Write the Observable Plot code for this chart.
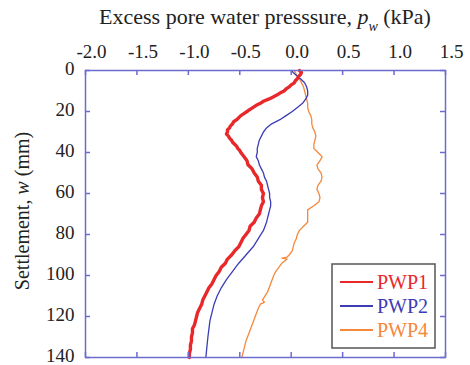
<!DOCTYPE html>
<html><head><meta charset="utf-8">
<script src="https://cdn.jsdelivr.net/npm/d3@7"></script>
<script src="https://cdn.jsdelivr.net/npm/@observablehq/plot@0.6"></script>
<style>body{margin:0;background:#fff}#chart{width:470px;height:365px}
#chart svg, #chart svg text{font-family:"Liberation Serif","Times New Roman",serif !important}</style>
</head><body><div id="chart"></div>
<script>
const seriesNames = ["PWP1", "PWP2", "PWP4"];
const seriesColors = ["#e8282a", "#3c3cb4", "#f5883c"];

const pwp1Depth = [0,1,2,3,4,5,6,7,8,9,10,11,12,13,14,15,16,17,18,19,20,21,22,23,24,25,26,27,28,29,30,31,32,33,34,35,36,37,38,39,40,42,44,46,48,50,52,54,56,58,60,62,64,66,68,70,72,74,76,78,80,82,84,86,88,90,92,94,96,98,100,102,104,106,108,110,112,114,116,118,120,122,124,126,128,130,132,134,136,138,140];
const pwp1Value = [0.08,0.10,0.09,0.07,0.06,0.04,0.03,0.00,-0.02,-0.05,-0.07,-0.11,-0.14,-0.18,-0.22,-0.27,-0.30,-0.34,-0.37,-0.40,-0.43,-0.46,-0.49,-0.51,-0.53,-0.56,-0.57,-0.59,-0.60,-0.62,-0.62,-0.63,-0.61,-0.60,-0.58,-0.57,-0.55,-0.53,-0.52,-0.50,-0.49,-0.46,-0.43,-0.42,-0.38,-0.36,-0.33,-0.32,-0.29,-0.29,-0.27,-0.28,-0.27,-0.29,-0.30,-0.31,-0.34,-0.36,-0.40,-0.41,-0.44,-0.47,-0.49,-0.51,-0.55,-0.58,-0.62,-0.64,-0.68,-0.70,-0.73,-0.75,-0.77,-0.80,-0.82,-0.84,-0.86,-0.87,-0.89,-0.91,-0.92,-0.93,-0.94,-0.96,-0.96,-0.97,-0.97,-0.98,-0.98,-0.99,-0.99];

const pwp2Depth = [0,2,4,6,8,10,12,14,16,18,20,22,24,26,28,30,32,34,36,38,40,42,44,46,48,50,52,54,56,58,60,62,64,66,68,70,74,78,82,86,90,94,98,102,106,110,114,118,122,126,130,135,140];
const pwp2Value = [0.00,0.04,0.09,0.13,0.15,0.16,0.16,0.14,0.11,0.06,0.01,-0.05,-0.11,-0.19,-0.24,-0.27,-0.29,-0.31,-0.32,-0.33,-0.33,-0.34,-0.32,-0.31,-0.29,-0.27,-0.26,-0.24,-0.23,-0.22,-0.21,-0.21,-0.20,-0.20,-0.21,-0.22,-0.24,-0.27,-0.32,-0.37,-0.44,-0.51,-0.57,-0.63,-0.68,-0.72,-0.75,-0.77,-0.79,-0.80,-0.81,-0.82,-0.83];

const pwp4Depth = [0,2,4,6,8,10,12,14,16,18,20,22,24,26,28,30,32,34,36,38,40,42,44,46,48,50,52,54,56,58,60,62,64,66,68,70,72,74,76,78,80,82,84,86,88,90,91,91.5,92,94,96,98,100,104,108,112,113,114,116,120,124,128,132,136,140];
const pwp4Value = [0.03,0.05,0.08,0.10,0.12,0.13,0.14,0.15,0.16,0.16,0.17,0.19,0.20,0.20,0.21,0.23,0.24,0.23,0.22,0.22,0.26,0.30,0.28,0.25,0.26,0.29,0.30,0.29,0.26,0.25,0.27,0.28,0.27,0.22,0.16,0.16,0.16,0.16,0.12,0.08,0.06,0.05,0.03,0.02,0.01,-0.02,-0.04,-0.09,-0.04,-0.09,-0.12,-0.15,-0.17,-0.20,-0.23,-0.28,-0.26,-0.30,-0.32,-0.35,-0.38,-0.41,-0.44,-0.46,-0.48];

const xTicks = [-2.0, -1.5, -1.0, -0.5, 0.0, 0.5, 1.0, 1.5];
const yTicks = [0, 20, 40, 60, 80, 100, 120, 140];

const W = 470, H = 365, mL = 85, mR = 25, mT = 70, mB = 8;
const innerW = W - mL - mR, innerH = H - mT - mB;
const frameColor = "#6c6cd0";
const tickLen = 5;
const serif = "'Liberation Serif', 'Times New Roman', serif";

const toRows = (name, depth, value) => depth.map((d, i) => ({series: name, depth: d, value: value[i]}));
const rows1 = toRows(seriesNames[0], pwp1Depth, pwp1Value);
const rows2 = toRows(seriesNames[1], pwp2Depth, pwp2Value);
const rows4 = toRows(seriesNames[2], pwp4Depth, pwp4Value);

const plot = Plot.plot({
  width: W, height: H,
  marginLeft: mL, marginRight: mR, marginTop: mT, marginBottom: mB,
  style: {fontFamily: serif, fontSize: "15px", color: "#222", background: "#fff"},
  x: {domain: [-2, 1.5], axis: null},
  y: {domain: [0, 140], reverse: true, axis: null},
  marks: [
    Plot.axisX(xTicks, {anchor: "top", tickSize: 0, tickPadding: 13, dx: 6, tickFormat: d => d.toFixed(1), label: null, fontSize: 19}),
    Plot.axisY(yTicks, {anchor: "left", tickSize: 0, tickPadding: 11, dy: -2, tickFormat: d => String(d), label: null, fontSize: 19}),
    Plot.line(rows4, {x: "value", y: "depth", stroke: seriesColors[2], strokeWidth: 1.3}),
    Plot.line(rows2, {x: "value", y: "depth", stroke: seriesColors[1], strokeWidth: 1.3}),
    Plot.line(rows1, {x: "value", y: "depth", stroke: seriesColors[0], strokeWidth: 3.4, strokeLinejoin: "round"}),
    Plot.ruleX(xTicks, {x: d => d, stroke: frameColor, strokeWidth: 1.5, insetBottom: innerH - tickLen}),
    Plot.ruleX(xTicks, {x: d => d, stroke: frameColor, strokeWidth: 1.5, insetTop: innerH - tickLen}),
    Plot.ruleY(yTicks, {y: d => d, stroke: frameColor, strokeWidth: 1.5, insetRight: innerW - tickLen}),
    Plot.ruleY(yTicks, {y: d => d, stroke: frameColor, strokeWidth: 1.5, insetLeft: innerW - tickLen}),
    Plot.frame({stroke: frameColor, strokeWidth: 1.5})
  ]
});

const svg = d3.select(plot);
// top title
const t = svg.append("text").attr("x", 265).attr("y", 24).attr("text-anchor", "middle")
  .attr("fill", "#222").style("font-size", "22px");
t.append("tspan").text("Excess pore water presssure, ");
t.append("tspan").attr("font-style", "italic").text("p");
t.append("tspan").attr("font-style", "italic").attr("font-size", "14px").attr("dy", 7).text("w");
t.append("tspan").attr("dy", -7).text(" (kPa)");
// y title
const yt = svg.append("text").attr("transform", "translate(29,211) rotate(-90)").attr("text-anchor", "middle")
  .attr("fill", "#222").style("font-size", "20px");
yt.append("tspan").text("Settlement, ");
yt.append("tspan").attr("font-style", "italic").text("w");
yt.append("tspan").text(" (mm)");
// legend
const lg = svg.append("g").attr("text-anchor", "start");
lg.append("rect").attr("x", 332).attr("y", 264).attr("width", 103).attr("height", 84)
  .attr("fill", "#fff").attr("stroke", "#555").attr("stroke-width", 1.5);
seriesNames.forEach((name, i) => {
  const yy = 282 + i * 24;
  lg.append("line").attr("x1", 340).attr("x2", 373).attr("y1", yy).attr("y2", yy)
    .attr("stroke", seriesColors[i]).attr("stroke-width", 2);
  lg.append("text").attr("x", 377).attr("y", yy + 7).attr("fill", seriesColors[i])
    .attr("text-anchor", "start").style("font-size", "20px").text(name);
});

document.getElementById("chart").appendChild(plot);
</script>
</body></html>
